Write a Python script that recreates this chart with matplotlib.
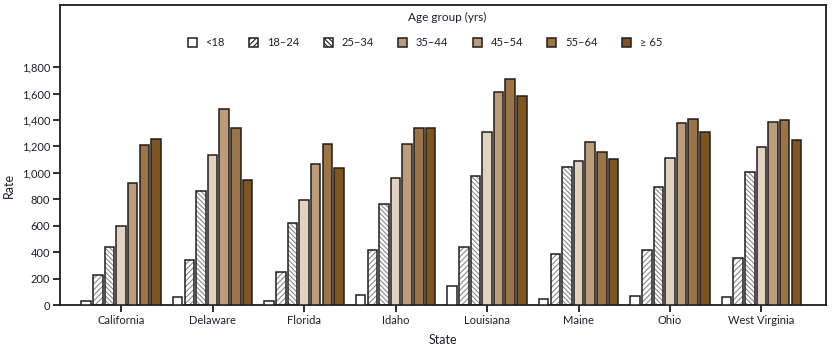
import matplotlib
matplotlib.use("Agg")
import matplotlib.pyplot as plt
import numpy as np
from matplotlib.patches import Patch
from matplotlib.ticker import FuncFormatter

states = ["California", "Delaware", "Florida", "Idaho", "Louisiana", "Maine", "Ohio", "West Virginia"]
age_groups = ["<18", "18\u201324", "25\u201334", "35\u201344", "45\u201354", "55\u201364", "\u2265 65"]

r_lt18 = [33, 58, 33, 78, 146, 48, 70, 63]
r_18_24 = [229, 338, 252, 418, 441, 383, 418, 358]
r_25_34 = [441, 865, 618, 762, 978, 1046, 895, 1008]
r_35_44 = [600, 1137, 797, 958, 1311, 1092, 1114, 1197]
r_45_54 = [925, 1485, 1069, 1220, 1613, 1235, 1379, 1387]
r_55_64 = [1213, 1341, 1220, 1341, 1712, 1160, 1409, 1402]
r_65 = [1253, 948, 1034, 1341, 1583, 1107, 1311, 1250]
series = [r_lt18, r_18_24, r_25_34, r_35_44, r_45_54, r_55_64, r_65]

fills = ["white", "white", "white", "#e2d3c1", "#bc9d7b", "#9c7547", "#7e5520"]
hatches = [None, "//////", "\\\\\\\\\\\\\\", None, None, None, None]
legend_fills = ["white", "white", "white", "#bc9d7b", "#bc9d7b", "#9c7547", "#7e5520"]

plt.rcParams['font.family'] = ['Lato', 'DejaVu Sans']
plt.rcParams['hatch.linewidth'] = 0.8
plt.rcParams['hatch.color'] = '#8a8a8a'

fig = plt.figure(figsize=(8.32, 3.48), dpi=100)
ax = fig.add_axes([60/832, 1 - 305/348, 766/832, 300/348])

x = np.arange(len(states))
pitch = 0.127
width = 0.104
txtc = '#1e1e28'
edge = '#1f1c1d'
for i, vals in enumerate(series):
    pos = x + (i - 3) * pitch
    if hatches[i]:
        ax.bar(pos, vals, width=width, color='white', edgecolor='#8a8a8a',
               hatch=hatches[i], linewidth=0, zorder=2)
        ax.bar(pos, vals, width=width, color='none', edgecolor=edge,
               linewidth=1.1, zorder=3)
    else:
        ax.bar(pos, vals, width=width, color=fills[i], edgecolor=edge,
               linewidth=1.1, zorder=3)

ax.set_xlim(-0.667, 7.705)
ax.set_ylim(0, 2270)
ax.set_yticks(np.arange(0, 1801, 200))
ax.yaxis.set_major_formatter(FuncFormatter(lambda v, p: f"{int(v):,}"))
ax.set_xticks(x)
ax.set_xticklabels(states)
for s in ax.spines.values():
    s.set_linewidth(1.3)
    s.set_color(edge)
ax.tick_params(axis='both', direction='out', length=5, width=1.3, color=edge,
               labelsize=8, labelcolor=txtc)
ax.tick_params(axis='x', pad=2)
ax.tick_params(axis='y', pad=2)

ax.set_ylabel("Rate", fontsize=9, color=txtc)
ax.yaxis.set_label_coords(-0.059, 0.40)
ax.set_xlabel("State", fontsize=9, color=txtc)
ax.xaxis.set_label_coords(0.5, -0.095)

handles = []
for i, lab in enumerate(age_groups):
    if hatches[i]:
        handles.append(Patch(facecolor='white', edgecolor=edge, hatch=hatches[i], linewidth=1.1, label=lab))
    else:
        handles.append(Patch(facecolor=legend_fills[i], edgecolor=edge, linewidth=1.1, label=lab))

leg = fig.legend(handles=handles, loc='center', bbox_to_anchor=(425/832, 1 - 43/348),
                 ncol=7, frameon=False, fontsize=8, handlelength=0.8, handleheight=0.8,
                 handletextpad=0.8, columnspacing=2.2, labelcolor=txtc)
fig.text(447/832, 1 - 17/348, "Age group (yrs)", ha='center', va='center', fontsize=8.5, color=txtc)

fig.savefig("out.png", dpi=100)
